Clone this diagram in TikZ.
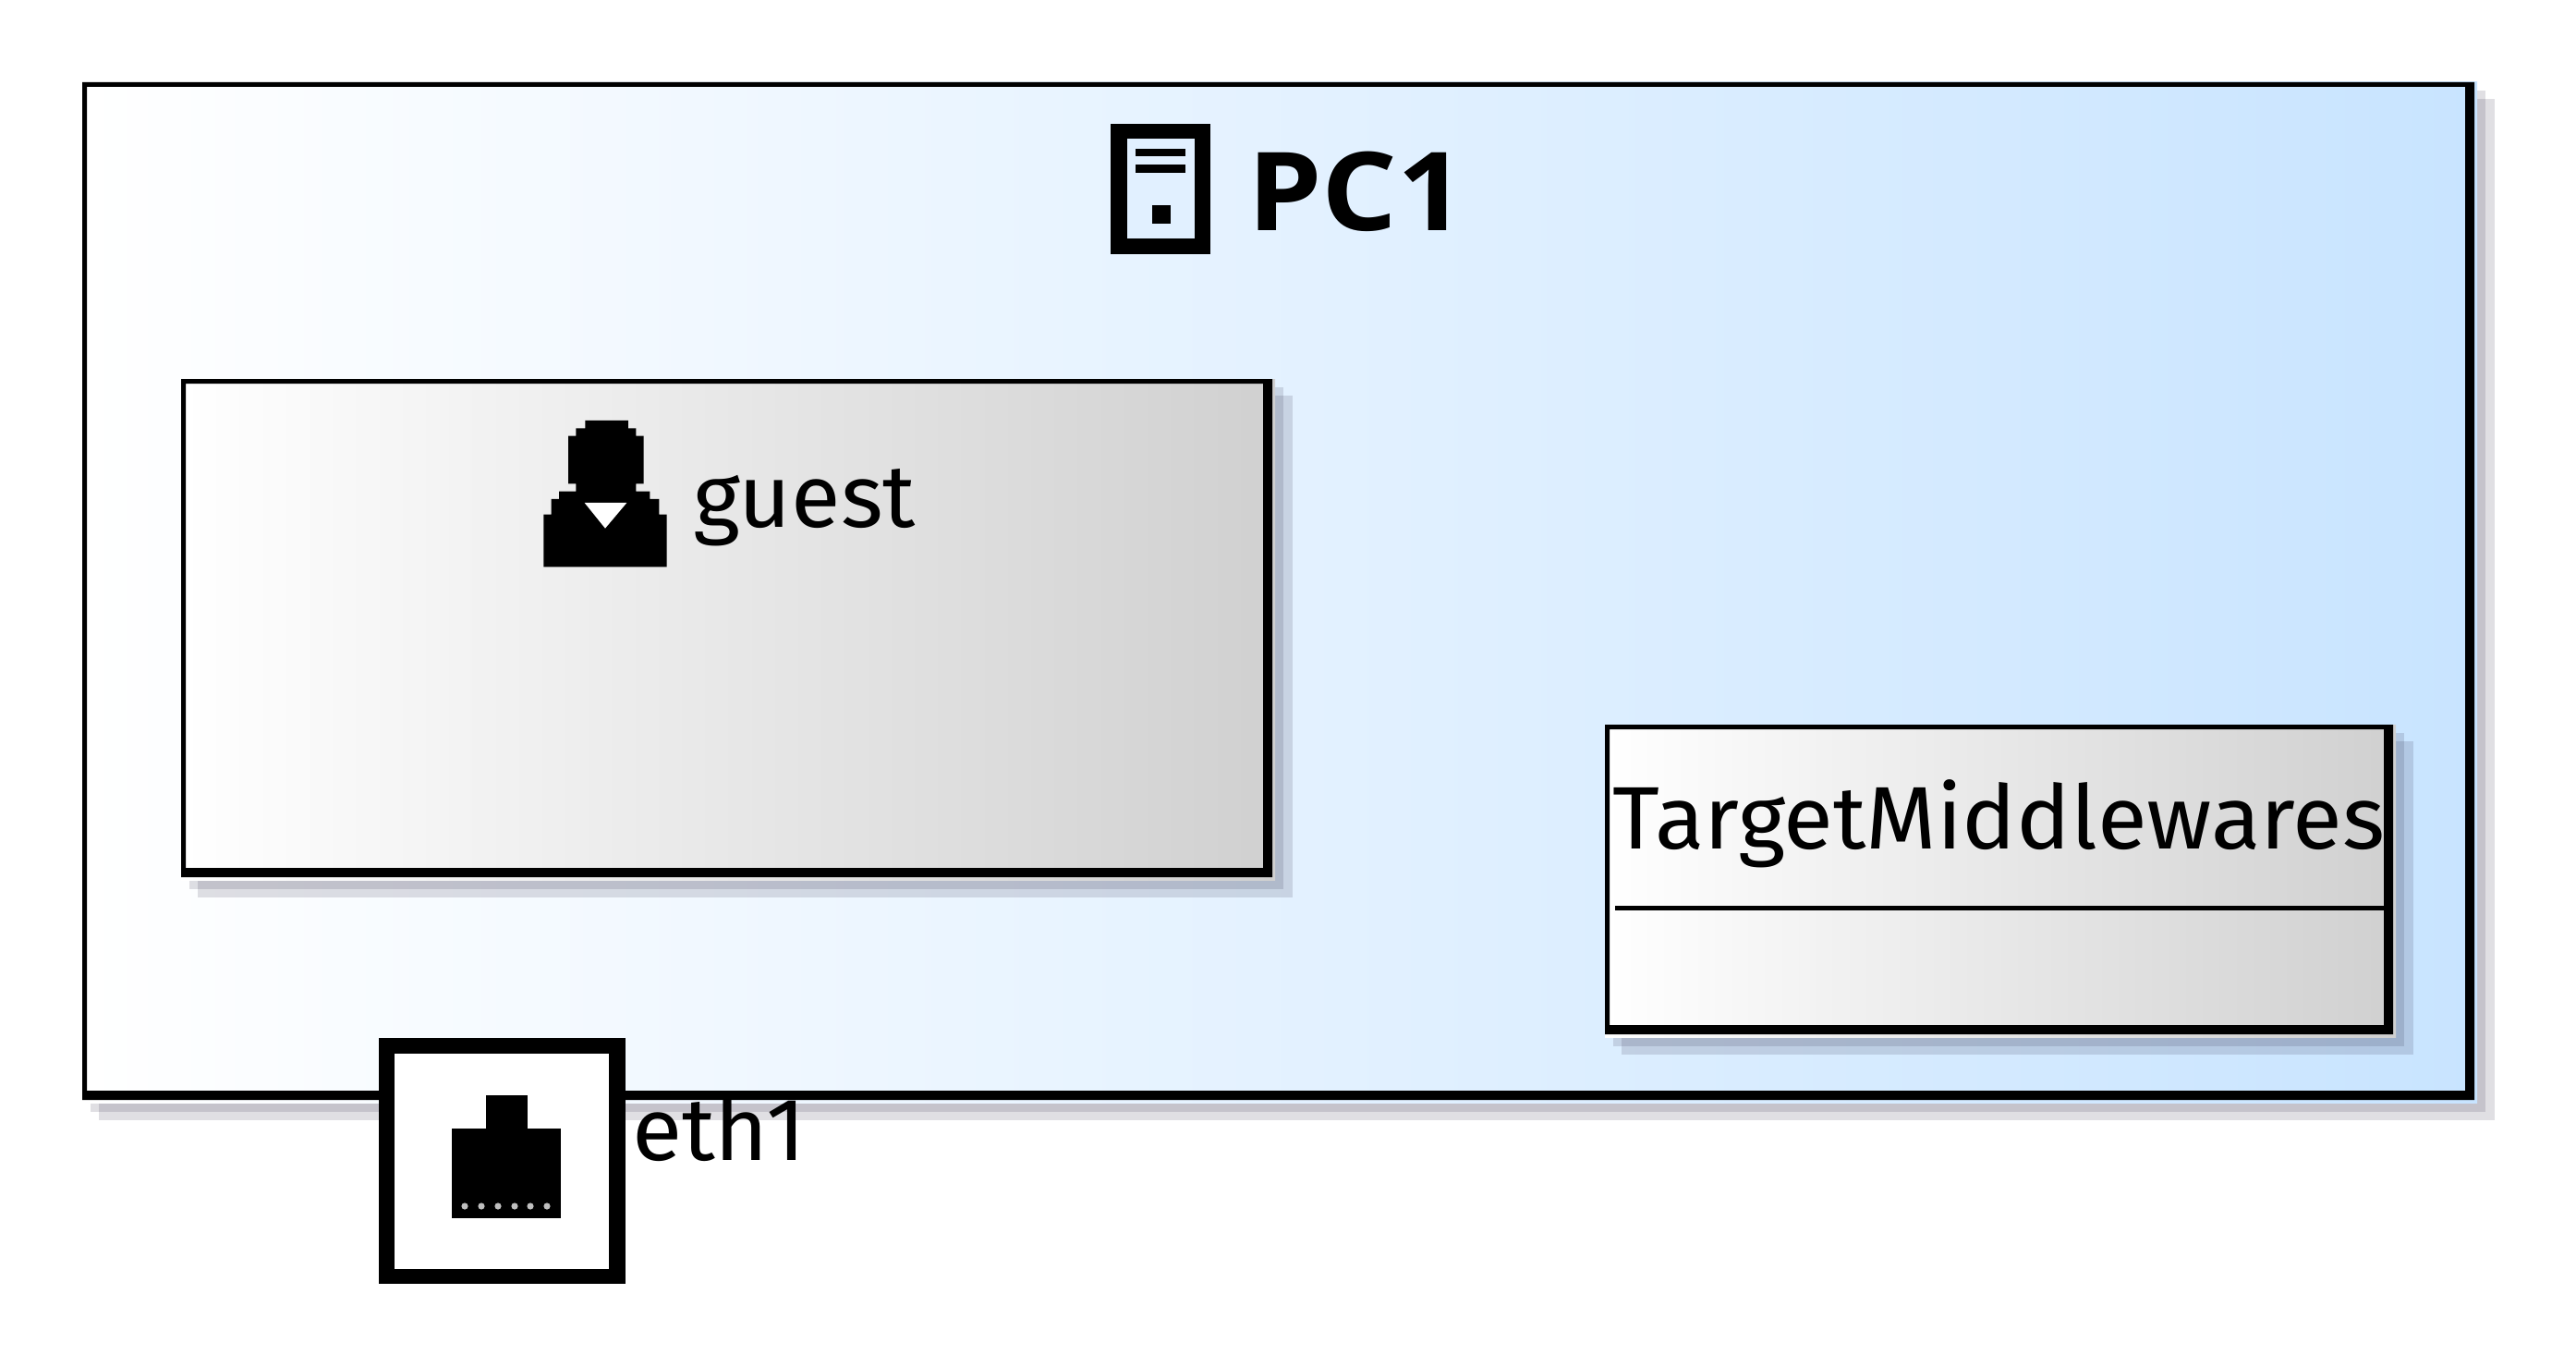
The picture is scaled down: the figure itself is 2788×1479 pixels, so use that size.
\documentclass[tikz,border=0pt]{standalone}
\usepackage{fontspec}
\usepackage{graphicx}
\setmainfont{Fira Sans}
\newfontfamily\boldhead{Open Sans}[BoldFont={Open Sans Bold}]
\definecolor{pcblue}{HTML}{C8E4FF}
\definecolor{boxgrey}{HTML}{D0D0D0}
\definecolor{shadowtint}{RGB}{36,30,60}
\tikzset{
  shadowband/.style={fill=shadowtint,fill opacity=0.14,draw=none},
  framefill/.style={fill=black,even odd rule,draw=none},
  label/.style={anchor=base west,inner sep=0pt,outer sep=0pt,text=black},
  iconfill/.style={fill=black,draw=none},
  iconhole/.style={fill=white,draw=none}
}
% x0 y0 = outer top-left, x1 y1 = outer bottom-right, #5 = right colour, #6 = thick edge
\newcommand{\umlframe}[6]{%
  \fill[shadowband] (#1+9,#2+9) rectangle (#3+12,#4+13);
  \fill[shadowband] (#1+18,#2+18) rectangle (#3+22,#4+22);
  \shade[left color=white,right color=#5,draw=none] (#1,#2) rectangle (#3+3,#4+3);
  \path[framefill] (#1,#2) rectangle (#3,#4) (#1+#6,#2+#6) rectangle (#3-10,#4-10);
}
\begin{document}
\begin{tikzpicture}[x=1pt,y=-1pt]
\useasboundingbox (0,0) rectangle (2788,1479);
\fill[white] (0,0) rectangle (2788,1479);
% PC1
\umlframe{89}{89}{2678}{1190}{pcblue}{5}
% computer icon
\path[iconfill] (1202,134) rectangle (1310,275);
\path[fill=pcblue!55!white] (1220,150) rectangle (1293,258);
\path[iconfill] (1229,161) rectangle (1283,169);
\path[iconfill] (1229,178) rectangle (1283,187);
\path[iconfill] (1247,222) rectangle (1267,242);
\node[label] (pcname) at (1350,250) {\resizebox{236pt}{\height}{\fontsize{118pt}{130pt}\boldhead\bfseries PC1}};
% guest
\umlframe{196}{410}{1377}{949}{boxgrey}{5}
\begin{scope}[shift={(560,430)},x=0.3333pt,y=-0.3333pt]
\path[iconfill] (220,75) -- (360,75) -- (360,100) -- (385,100) -- (385,125) -- (410,125) -- (410,280) -- (385,280) -- (385,305) -- (430,305) -- (430,330) -- (460,330) -- (460,380) -- (485,380) -- (485,550) -- (85,550) -- (85,380) -- (110,380) -- (110,330) -- (135,330) -- (135,305) -- (190,305) -- (190,280) -- (165,280) -- (165,125) -- (190,125) -- (190,100) -- (220,100) -- cycle;
\path[iconhole] (218,342) -- (355,342) -- (285,425) -- cycle;
\end{scope}
\node[label] (guestname) at (750,570) {\resizebox{241pt}{\height}{\fontsize{96pt}{110pt}\selectfont guest}};
% TargetMiddlewares
\umlframe{1737}{784}{2590}{1119}{boxgrey}{5}
\node[label] (targetname) at (1745,918) {\resizebox{836pt}{\height}{\fontsize{96pt}{110pt}\selectfont TargetMiddlewares}};
\coordinate (divl) at (1748,982.5);
\coordinate (divr) at (2581,982.5);
\draw[line width=5pt,black] (divl) -- (divr);
% port
\fill[black] (410,1123) rectangle (677,1389);
\fill[white] (427,1140) rectangle (659,1373);
\path[iconfill] (489,1221) rectangle (607,1318);
\path[iconfill] (526,1185) rectangle (571,1221);
\foreach \dx in {503,521,539,557,574,592}{
  \fill[white!75!black] (\dx,1305) circle[radius=3.6];
}
\node[label] (portname) at (684,1255) {\resizebox{188pt}{\height}{\fontsize{96pt}{110pt}\selectfont eth1}};
\end{tikzpicture}
\end{document}
